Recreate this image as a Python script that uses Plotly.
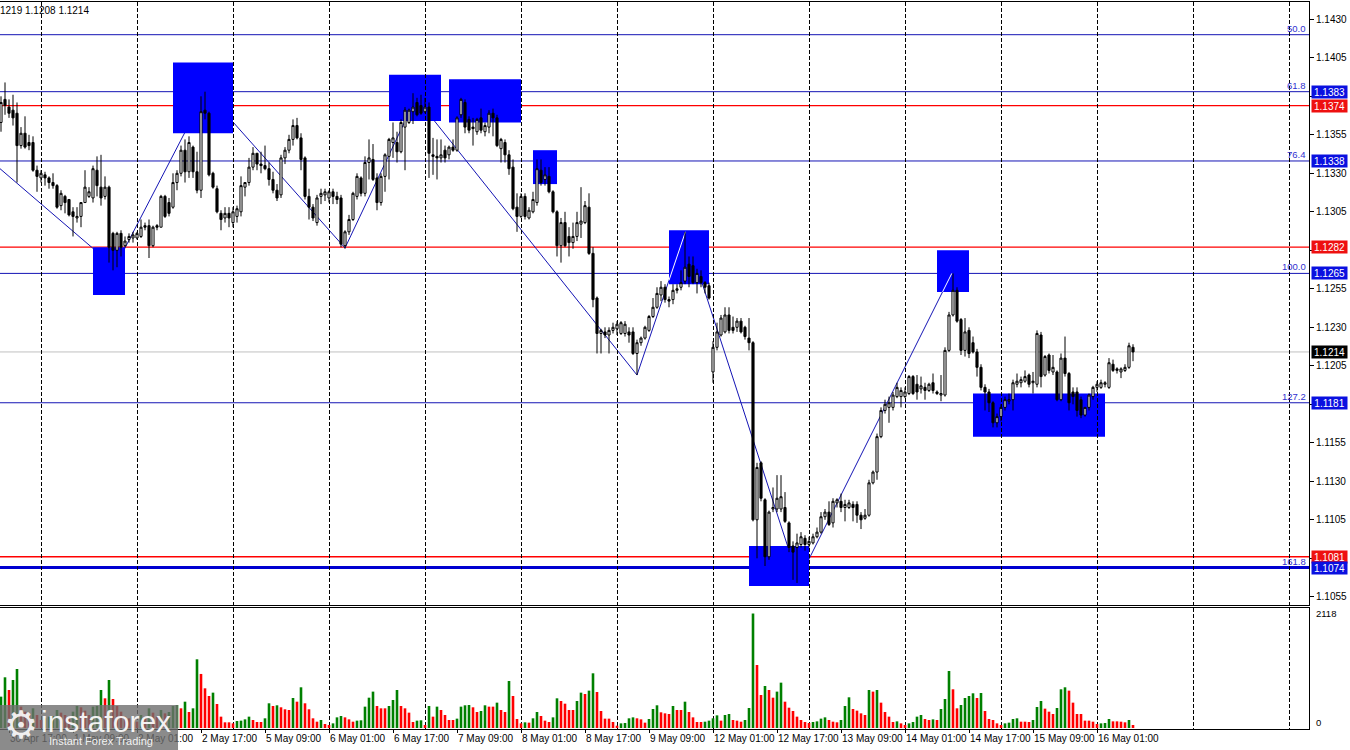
import plotly.graph_objects as go

# ---------------- data ----------------
opens = [1.1363,1.1378,1.1373,1.1371,1.1369,1.1348,1.1356,1.1350,1.1350,1.1332,
1.1327,1.1329,1.1327,1.1324,1.1322,1.1309,1.1315,1.1313,1.1305,1.1301,
1.1302,1.1311,1.1315,1.1314,1.1332,1.1321,1.1315,1.1321,1.1291,1.1280,
1.1291,1.1283,1.1287,1.1288,1.1288,1.1289,1.1296,1.1296,1.1283,1.1296,
1.1295,1.1315,1.1311,1.1308,1.1324,1.1330,1.1345,1.1331,1.1347,1.1331,
1.1319,1.1371,1.1369,1.1330,1.1320,1.1304,1.1301,1.1304,1.1298,1.1302,
1.1305,1.1321,1.1324,1.1334,1.1343,1.1336,1.1335,1.1333,1.1326,1.1319,
1.1316,1.1340,1.1345,1.1352,1.1361,1.1353,1.1340,1.1315,1.1308,1.1298,
1.1315,1.1316,1.1314,1.1318,1.1315,1.1314,1.1283,1.1292,1.1300,1.1315,
1.1327,1.1317,1.1337,1.1339,1.1327,1.1311,1.1328,1.1341,1.1350,1.1350,
1.1344,1.1360,1.1363,1.1370,1.1376,1.1374,1.1370,1.1373,1.1342,1.1341,
1.1340,1.1345,1.1342,1.1347,1.1345,1.1368,1.1376,1.1365,1.1360,1.1357,
1.1366,1.1357,1.1360,1.1369,1.1366,1.1346,1.1350,1.1342,1.1334,1.1308,
1.1302,1.1315,1.1301,1.1305,1.1311,1.1332,1.1326,1.1328,1.1318,1.1305,
1.1283,1.1298,1.1289,1.1285,1.1289,1.1297,1.1298,1.1308,1.1278,1.1249,
1.1226,1.1227,1.1225,1.1228,1.1229,1.1226,1.1226,1.1227,1.1227,1.1213,
1.1220,1.1223,1.1228,1.1237,1.1243,1.1251,1.1256,1.1248,1.1248,1.1254,
1.1256,1.1260,1.1271,1.1270,1.1259,1.1263,1.1259,1.1257,1.1201,1.1217,
1.1225,1.1227,1.1238,1.1230,1.1230,1.1234,1.1230,1.1223,1.1220,1.1105,
1.1142,1.1118,1.1081,1.1112,1.1112,1.1112,1.1113,1.1103,1.1088,1.1087,
1.1089,1.1093,1.1089,1.1090,1.1094,1.1097,1.1107,1.1110,1.1103,1.1116,
1.1117,1.1113,1.1113,1.1115,1.1115,1.1108,1.1106,1.1108,1.1129,1.1136,
1.1159,1.1176,1.1178,1.1178,1.1185,1.1185,1.1185,1.1187,1.1198,1.1193,
1.1190,1.1191,1.1189,1.1194,1.1188,1.1186,1.1186,1.1215,1.1238,1.1254,
1.1235,1.1215,1.1228,1.1220,1.1214,1.1204,1.1191,1.1188,1.1181,1.1168,
1.1172,1.1178,1.1182,1.1183,1.1193,1.1194,1.1195,1.1199,1.1194,1.1193,
1.1225,1.1199,1.1212,1.1201,1.1201,1.1183,1.1210,1.1200,1.1188,1.1188,
1.1183,1.1173,1.1178,1.1185,1.1191,1.1191,1.1193,1.1191,1.1206,1.1202,
1.1201,1.1202,1.1204,1.1217]
highs = [1.1380,1.1389,1.1378,1.1381,1.1376,1.1360,1.1367,1.1355,1.1354,1.1335,
1.1332,1.1331,1.1328,1.1330,1.1323,1.1319,1.1316,1.1313,1.1308,1.1308,
1.1311,1.1332,1.1321,1.1335,1.1341,1.1342,1.1328,1.1322,1.1292,1.1292,
1.1293,1.1289,1.1291,1.1292,1.1292,1.1300,1.1298,1.1300,1.1296,1.1297,
1.1316,1.1316,1.1314,1.1330,1.1332,1.1348,1.1352,1.1354,1.1348,1.1344,
1.1380,1.1383,1.1370,1.1331,1.1322,1.1306,1.1308,1.1308,1.1308,1.1309,
1.1328,1.1324,1.1340,1.1347,1.1343,1.1344,1.1348,1.1337,1.1331,1.1323,
1.1342,1.1347,1.1355,1.1365,1.1366,1.1356,1.1341,1.1320,1.1310,1.1316,
1.1320,1.1320,1.1319,1.1320,1.1318,1.1316,1.1293,1.1303,1.1318,1.1330,
1.1328,1.1341,1.1352,1.1349,1.1330,1.1330,1.1343,1.1353,1.1363,1.1357,
1.1365,1.1373,1.1372,1.1382,1.1379,1.1381,1.1379,1.1376,1.1353,1.1352,
1.1352,1.1348,1.1348,1.1352,1.1367,1.1379,1.1378,1.1367,1.1366,1.1366,
1.1372,1.1363,1.1371,1.1372,1.1368,1.1353,1.1352,1.1345,1.1339,1.1317,
1.1317,1.1317,1.1308,1.1318,1.1339,1.1339,1.1334,1.1334,1.1319,1.1306,
1.1301,1.1305,1.1295,1.1298,1.1305,1.1321,1.1312,1.1317,1.1282,1.1250,
1.1229,1.1230,1.1230,1.1233,1.1234,1.1234,1.1234,1.1230,1.1230,1.1222,
1.1224,1.1231,1.1238,1.1249,1.1256,1.1260,1.1258,1.1250,1.1258,1.1258,
1.1267,1.1292,1.1276,1.1276,1.1268,1.1267,1.1260,1.1259,1.1221,1.1233,
1.1238,1.1243,1.1243,1.1237,1.1236,1.1236,1.1231,1.1236,1.1221,1.1142,
1.1143,1.1119,1.1111,1.1126,1.1134,1.1134,1.1123,1.1104,1.1091,1.1096,
1.1097,1.1095,1.1094,1.1096,1.1100,1.1110,1.1112,1.1117,1.1119,1.1119,
1.1122,1.1118,1.1118,1.1117,1.1117,1.1110,1.1112,1.1131,1.1137,1.1161,
1.1178,1.1183,1.1185,1.1188,1.1194,1.1191,1.1191,1.1199,1.1199,1.1199,
1.1198,1.1194,1.1194,1.1200,1.1189,1.1199,1.1217,1.1240,1.1265,1.1256,
1.1236,1.1236,1.1230,1.1224,1.1216,1.1206,1.1193,1.1190,1.1182,1.1174,
1.1180,1.1185,1.1187,1.1196,1.1200,1.1198,1.1202,1.1200,1.1201,1.1228,
1.1227,1.1212,1.1213,1.1212,1.1202,1.1213,1.1224,1.1201,1.1191,1.1191,
1.1185,1.1178,1.1187,1.1192,1.1195,1.1196,1.1195,1.1210,1.1209,1.1204,
1.1204,1.1206,1.1220,1.1219]
lows = [1.1357,1.1368,1.1366,1.1361,1.1324,1.1346,1.1346,1.1345,1.1331,1.1318,
1.1324,1.1322,1.1320,1.1320,1.1307,1.1306,1.1304,1.1302,1.1289,1.1298,
1.1295,1.1311,1.1314,1.1311,1.1315,1.1309,1.1313,1.1272,1.1267,1.1269,
1.1276,1.1282,1.1285,1.1285,1.1287,1.1288,1.1293,1.1275,1.1282,1.1293,
1.1295,1.1301,1.1302,1.1307,1.1319,1.1328,1.1324,1.1327,1.1327,1.1317,
1.1314,1.1365,1.1328,1.1320,1.1304,1.1293,1.1298,1.1295,1.1295,1.1298,
1.1302,1.1315,1.1322,1.1332,1.1332,1.1330,1.1332,1.1322,1.1317,1.1312,
1.1314,1.1336,1.1343,1.1348,1.1352,1.1332,1.1313,1.1300,1.1299,1.1296,
1.1310,1.1312,1.1311,1.1310,1.1310,1.1282,1.1281,1.1290,1.1299,1.1313,
1.1315,1.1315,1.1326,1.1325,1.1306,1.1309,1.1318,1.1326,1.1340,1.1337,
1.1343,1.1332,1.1362,1.1362,1.1367,1.1368,1.1369,1.1327,1.1329,1.1326,
1.1337,1.1337,1.1339,1.1344,1.1344,1.1366,1.1356,1.1356,1.1348,1.1355,
1.1356,1.1354,1.1356,1.1354,1.1347,1.1337,1.1337,1.1329,1.1306,1.1292,
1.1301,1.1300,1.1300,1.1304,1.1309,1.1322,1.1322,1.1317,1.1304,1.1276,
1.1272,1.1282,1.1276,1.1281,1.1286,1.1288,1.1297,1.1277,1.1243,1.1213,
1.1213,1.1223,1.1213,1.1226,1.1225,1.1225,1.1224,1.1220,1.1212,1.1199,
1.1218,1.1222,1.1227,1.1236,1.1242,1.1247,1.1246,1.1243,1.1245,1.1252,
1.1254,1.1258,1.1256,1.1258,1.1252,1.1256,1.1252,1.1248,1.1194,1.1215,
1.1224,1.1226,1.1226,1.1226,1.1227,1.1226,1.1222,1.1215,1.1104,1.1080,
1.1117,1.1075,1.1079,1.1110,1.1110,1.1110,1.1103,1.1084,1.1066,1.1064,
1.1087,1.1085,1.1087,1.1089,1.1093,1.1096,1.1105,1.1101,1.1100,1.1113,
1.1110,1.1104,1.1112,1.1104,1.1103,1.1099,1.1105,1.1107,1.1128,1.1131,
1.1158,1.1174,1.1168,1.1176,1.1184,1.1178,1.1184,1.1186,1.1186,1.1183,
1.1187,1.1183,1.1188,1.1187,1.1186,1.1182,1.1185,1.1214,1.1237,1.1233,
1.1212,1.1211,1.1210,1.1213,1.1198,1.1189,1.1176,1.1175,1.1165,1.1165,
1.1169,1.1176,1.1180,1.1176,1.1191,1.1191,1.1194,1.1191,1.1187,1.1191,
1.1191,1.1198,1.1200,1.1199,1.1182,1.1182,1.1198,1.1176,1.1180,1.1172,
1.1171,1.1172,1.1176,1.1183,1.1188,1.1190,1.1191,1.1190,1.1201,1.1200,
1.1197,1.1201,1.1203,1.1208]
closes = [1.1376,1.1374,1.1369,1.1366,1.1348,1.1356,1.1347,1.1348,1.1332,1.1328,
1.1330,1.1327,1.1324,1.1322,1.1308,1.1317,1.1311,1.1303,1.1302,1.1302,
1.1311,1.1321,1.1318,1.1333,1.1322,1.1314,1.1321,1.1282,1.1280,1.1291,
1.1282,1.1286,1.1289,1.1290,1.1291,1.1295,1.1295,1.1283,1.1295,1.1295,
1.1315,1.1302,1.1304,1.1324,1.1330,1.1345,1.1331,1.1350,1.1331,1.1319,
1.1370,1.1369,1.1329,1.1321,1.1305,1.1300,1.1304,1.1301,1.1305,1.1307,
1.1322,1.1324,1.1334,1.1343,1.1336,1.1335,1.1333,1.1326,1.1319,1.1314,
1.1340,1.1345,1.1352,1.1361,1.1353,1.1339,1.1315,1.1308,1.1301,1.1314,
1.1317,1.1318,1.1318,1.1315,1.1313,1.1284,1.1292,1.1300,1.1317,1.1328,
1.1317,1.1337,1.1340,1.1326,1.1311,1.1328,1.1342,1.1352,1.1353,1.1344,
1.1363,1.1371,1.1371,1.1373,1.1368,1.1369,1.1373,1.1343,1.1341,1.1340,
1.1342,1.1340,1.1347,1.1345,1.1366,1.1378,1.1360,1.1358,1.1359,1.1365,
1.1358,1.1361,1.1369,1.1366,1.1348,1.1352,1.1342,1.1333,1.1307,1.1302,
1.1315,1.1302,1.1306,1.1313,1.1333,1.1324,1.1329,1.1318,1.1305,1.1283,
1.1298,1.1283,1.1285,1.1289,1.1298,1.1299,1.1309,1.1278,1.1248,1.1226,
1.1228,1.1225,1.1228,1.1230,1.1232,1.1233,1.1232,1.1225,1.1213,1.1220,
1.1223,1.1230,1.1237,1.1243,1.1252,1.1256,1.1248,1.1247,1.1254,1.1255,
1.1259,1.1269,1.1263,1.1259,1.1265,1.1259,1.1256,1.1249,1.1217,1.1227,
1.1236,1.1238,1.1228,1.1228,1.1234,1.1227,1.1224,1.1220,1.1105,1.1139,
1.1119,1.1081,1.1110,1.1113,1.1119,1.1120,1.1104,1.1087,1.1084,1.1090,
1.1094,1.1089,1.1091,1.1094,1.1097,1.1107,1.1110,1.1102,1.1117,1.1118,
1.1113,1.1115,1.1116,1.1113,1.1108,1.1105,1.1108,1.1129,1.1136,1.1159,
1.1176,1.1180,1.1181,1.1186,1.1191,1.1189,1.1188,1.1198,1.1187,1.1188,
1.1192,1.1189,1.1193,1.1189,1.1187,1.1187,1.1215,1.1238,1.1254,1.1234,
1.1215,1.1227,1.1213,1.1214,1.1204,1.1191,1.1188,1.1181,1.1168,1.1172,
1.1178,1.1183,1.1183,1.1194,1.1195,1.1196,1.1198,1.1193,1.1195,1.1226,
1.1198,1.1211,1.1202,1.1204,1.1183,1.1210,1.1200,1.1181,1.1185,1.1176,
1.1173,1.1178,1.1186,1.1191,1.1193,1.1194,1.1194,1.1207,1.1202,1.1203,
1.1203,1.1204,1.1218,1.1214]
volumes = [580,938,703,888,1092,395,302,271,364,241,148,179,210,222,333,284,241,210,302,407,
383,321,241,395,407,703,549,888,537,407,302,210,179,148,117,241,210,364,284,210,
333,271,296,
407,426,364,487,296,364,1271,1000,734,592,654,444,210,105,105,86,
130,136,160,210,148,111,111,179,457,407,420,383,346,333,555,487,753,457,346,179,117,148,74,56,
86,197,222,197,160,117,136,142,395,561,673,407,364,364,407,518,703,407,364,284,111,136,142,56,
407,210,395,333,241,148,148,173,395,420,426,383,296,315,420,395,395,469,333,296,870,592,167,86,
105,99,179,296,222,136,111,197,549,500,450,333,333,500,654,629,691,1012,666,315,173,173,111,43,
86,93,179,197,179,160,99,167,352,420,290,271,259,407,333,
333,487,296,197,111,111,117,136,179,
234,136,241,259,148,136,117,148,370,2118,1166,611,777,703,561,673,839,487,376,315,210,148,111,93,
111,123,173,197,148,117,105,148,407,568,352,321,271,241,703,673,703,469,296,210,111,123,86,56,
86,111,210,241,167,148,160,148,352,537,1055,716,364,426,555,592,642,555,648,315,167,148,86,56,
86,99,167,179,117,117,111,148,389,500,358,302,259,370,716,753,691,469,259,259,136,136,117,74,
86,93,167,123,123,117,105,148,56]

n = len(closes)
assert len(opens) == n and len(highs) == n and len(lows) == n and len(volumes) == n
bars = list(range(n))

time_label_bars = [2, 18, 34, 50, 66, 82, 98, 114, 130, 146, 162, 178, 194, 210, 226, 242, 258, 274]
time_labels = ["30 Apr 17:00", "1 May 09:00", "2 May 01:00", "2 May 17:00", "5 May 09:00",
               "6 May 01:00", "6 May 17:00", "7 May 09:00", "8 May 01:00", "8 May 17:00",
               "9 May 09:00", "12 May 01:00", "12 May 17:00", "13 May 09:00", "14 May 01:00",
               "14 May 17:00", "15 May 09:00", "16 May 01:00"]

price_ticks = [1.1055, 1.1080, 1.1105, 1.1130, 1.1155, 1.1180, 1.1205, 1.1230, 1.1255,
               1.1280, 1.1305, 1.1330, 1.1355, 1.1380, 1.1405, 1.1430]

fib_levels = [1.1420, 1.1383, 1.1338, 1.1265, 1.1181, 1.1074]
fib_names = ["50.0", "61.8", "76.4", "100.0", "127.2", "161.8"]
red_levels = [1.1374, 1.1282, 1.1081]
last_price = 1.1214

tag_values = [1.1383, 1.1374, 1.1338, 1.1282, 1.1265, 1.1214, 1.1181, 1.1081, 1.1074]
tag_kinds = ["fib", "red", "fib", "red", "fib", "last", "fib", "red", "fib"]

zz_x = [-0.25, 28.5, 51.25, 86, 103.75, 159, 171.1, 199.4, 237.7]
zz_y = [1.1333, 1.1269, 1.1383, 1.12815, 1.1379, 1.1199, 1.1292, 1.1066, 1.1265]

box_x0 = [23, 43, 97, 112, 133, 167, 187, 234, 243]
box_x1 = [31, 58, 110, 130, 139, 177, 202, 242, 276]
box_top = [1.1282, 1.1402, 1.1394, 1.1391, 1.1345, 1.1293, 1.1088, 1.1280, 1.1187]
box_bot = [1.1251, 1.1356, 1.1364, 1.1363, 1.1323, 1.1258, 1.1062, 1.1253, 1.1159]
white_leg_boxes = [5, 7]

vol_max_label = 2118

# ---------------- style ----------------
FONT = "Liberation Sans, Arial, sans-serif"
NAVY = "#1414b4"
RED = "#ff0000"
BOXBLUE = "#0000ff"
TAG = {"fib": "#0a10e0", "red": "#ee1010", "last": "#000000"}

Y_MIN, Y_MAX = 1.104968, 1.144123
X_MIN, X_MAX = -0.25, 327.0

fig = go.Figure()

fig.add_trace(go.Candlestick(
    x=bars, open=opens, high=highs, low=lows, close=closes,
    increasing=dict(line=dict(color="black", width=1), fillcolor="white"),
    decreasing=dict(line=dict(color="black", width=1), fillcolor="black"),
    whiskerwidth=0, xaxis="x", yaxis="y", showlegend=False, hoverinfo="skip"))

vol_colors = ["#008000"]
for k in range(1, n):
    vol_colors.append("#008000" if volumes[k] > volumes[k - 1] else "#ff0000")
fig.add_trace(go.Bar(x=bars, y=volumes, marker=dict(color=vol_colors, line=dict(width=0)),
                     width=0.65, xaxis="x2", yaxis="y2", showlegend=False, hoverinfo="skip"))

shapes = []
path = "M " + " L ".join(f"{x},{y}" for x, y in zip(zz_x, zz_y))
shapes.append(dict(type="path", path=path, xref="x", yref="y", layer="below",
                   line=dict(color=NAVY, width=1)))
for a, b, t, u in zip(box_x0, box_x1, box_top, box_bot):
    shapes.append(dict(type="rect", xref="x", yref="y", x0=a, x1=b, y0=u, y1=t,
                       fillcolor=BOXBLUE, line=dict(width=0), layer="below"))


def clip(x0, y0, x1, y1, xmin, xmax, ymin, ymax):
    t0, t1 = 0.0, 1.0
    dx, dy = x1 - x0, y1 - y0
    for p, q in ((-dx, x0 - xmin), (dx, xmax - x0), (-dy, y0 - ymin), (dy, ymax - y0)):
        if p == 0:
            if q < 0:
                return None
        else:
            t = q / p
            if p < 0:
                t0 = max(t0, t)
            else:
                t1 = min(t1, t)
    if t0 > t1:
        return None
    return x0 + t0 * dx, y0 + t0 * dy, x0 + t1 * dx, y0 + t1 * dy


for bi in white_leg_boxes:
    for k in range(len(zz_x) - 1):
        xe, ye = zz_x[k + 1], zz_y[k + 1]
        if box_x0[bi] <= xe <= box_x1[bi] and box_bot[bi] <= ye <= box_top[bi]:
            seg = clip(zz_x[k], zz_y[k], xe, ye, box_x0[bi], box_x1[bi], box_bot[bi], box_top[bi])
            if seg:
                shapes.append(dict(type="line", xref="x", yref="y", x0=seg[0], y0=seg[1],
                                   x1=seg[2], y1=seg[3], line=dict(color="white", width=1),
                                   layer="below"))
for lv in red_levels:
    shapes.append(dict(type="line", xref="paper", yref="y", x0=0, x1=1, y0=lv, y1=lv,
                       line=dict(color=RED, width=1.3), layer="below"))
for lv in fib_levels:
    w = 3 if lv == min(fib_levels) else 1
    col = "#0000d0" if w == 3 else NAVY
    shapes.append(dict(type="line", xref="paper", yref="y", x0=0, x1=1, y0=lv, y1=lv,
                       line=dict(color=col, width=w), layer="below"))
shapes.append(dict(type="line", xref="paper", yref="y", x0=0, x1=1, y0=last_price, y1=last_price,
                   line=dict(color="#c0c0c0", width=1), layer="below"))

# logo box
shapes.append(dict(type="rect", xref="paper", yref="paper", x0=0, x1=0.136, y0=-0.029, y1=0.033,
                   fillcolor="rgba(110,110,110,0.80)", line=dict(width=0), layer="above"))

annotations = []
for lv, nm in zip(fib_levels, fib_names):
    annotations.append(dict(xref="paper", yref="y", x=1, y=lv, text=nm, showarrow=False,
                            xanchor="right", yanchor="bottom", xshift=-1, yshift=-1,
                            font=dict(family=FONT, size=9.5, color="#3030d0")))
for v, kind in zip(tag_values, tag_kinds):
    annotations.append(dict(xref="paper", yref="y", x=1, y=v, text=f"{v:.4f}", showarrow=False,
                            xanchor="left", yanchor="middle", xshift=2, width=35, height=12,
                            bgcolor=TAG[kind], borderpad=0,
                            font=dict(family=FONT, size=10, color="white")))
annotations.append(dict(xref="paper", yref="y2", x=1, y=vol_max_label, text=str(vol_max_label),
                        showarrow=False, xanchor="left", yanchor="middle", xshift=5,
                        font=dict(family=FONT, size=9.5, color="black")))
annotations.append(dict(xref="paper", yref="y2", x=1, y=0, text="0", showarrow=False,
                        xanchor="left", yanchor="middle", xshift=5, yshift=6,
                        font=dict(family=FONT, size=9.5, color="black")))
annotations.append(dict(xref="paper", yref="paper", x=0, y=0.9883,
                        text=f"{highs[-1]:.4f}"[2:] + f" {lows[-1]:.4f} {closes[-1]:.4f}",
                        showarrow=False, xanchor="left", yanchor="middle", xshift=-2,
                        font=dict(family=FONT, size=10, color="black")))
annotations.append(dict(xref="paper", yref="paper", x=0.016, y=0.006, text="⚙", showarrow=False,
                        xanchor="center", yanchor="middle",
                        font=dict(family="DejaVu Sans", size=38, color="rgba(255,255,255,0.9)")))
annotations.append(dict(xref="paper", yref="paper", x=0.030, y=0.011, text="instaforex",
                        showarrow=False, xanchor="left", yanchor="middle",
                        font=dict(family=FONT, size=30, color="rgba(255,255,255,0.92)")))
annotations.append(dict(xref="paper", yref="paper", x=0.036, y=-0.016, text="Instant Forex Trading",
                        showarrow=False, xanchor="left", yanchor="middle",
                        font=dict(family=FONT, size=11, color="rgba(255,255,255,0.9)")))

# tick labels hidden behind the level tags are left blank (as on the original chart)
price_ticktext = ["" if any(abs(t - v) < 0.0006 for v in tag_values) else f"{t:.4f}"
                  for t in price_ticks]

H_PLOT = 727.0
main_bottom = (729 - 605) / H_PLOT
vol_top = (729 - 608) / H_PLOT

fig.update_layout(
    width=1350, height=750,
    margin=dict(l=0, r=41, t=2, b=21, autoexpand=False),
    paper_bgcolor="white", plot_bgcolor="white",
    showlegend=False, boxgap=0.25,
    shapes=shapes, annotations=annotations,
    xaxis=dict(domain=[0, 1], range=[X_MIN, X_MAX], anchor="y",
               rangeslider=dict(visible=False),
               tickmode="linear", tick0=10, dtick=24, showticklabels=False, ticks="",
               showgrid=True, gridcolor="black", gridwidth=1, griddash="4px,2px",
               showline=True, mirror=True, linecolor="black", linewidth=1, zeroline=False),
    yaxis=dict(domain=[main_bottom, 1], range=[Y_MIN, Y_MAX], side="right", anchor="x",
               tickmode="array", tickvals=price_ticks, ticktext=price_ticktext,
               ticks="outside", ticklen=4, tickcolor="black", automargin=False,
               tickfont=dict(family=FONT, size=10, color="black"),
               showgrid=False, showline=True, linecolor="black", linewidth=1, zeroline=False),
    xaxis2=dict(domain=[0, 1], range=[X_MIN, X_MAX], anchor="y2", automargin=False,
                tickmode="array", tickvals=time_label_bars, ticktext=time_labels, tickangle=0,
                ticklabelposition="outside right", ticks="outside", ticklen=3, tickcolor="black",
                tickfont=dict(family=FONT, size=10, color="black"),
                showgrid=False,
                minor=dict(tickmode="linear", tick0=10, dtick=24, showgrid=True,
                           gridcolor="black", gridwidth=1, griddash="4px,2px", ticks=""),
                showline=True, mirror=True, linecolor="black", linewidth=1, zeroline=False),
    yaxis2=dict(domain=[0, vol_top], range=[-18.5, 2220], side="right", anchor="x2",
                showticklabels=False, ticks="", showgrid=False, zeroline=False, automargin=False,
                showline=True, linecolor="black", linewidth=1),
)

fig.write_html("out.html", config={"displayModeBar": False},
               post_script="document.body.style.margin='0px';document.body.style.overflow='hidden';")
